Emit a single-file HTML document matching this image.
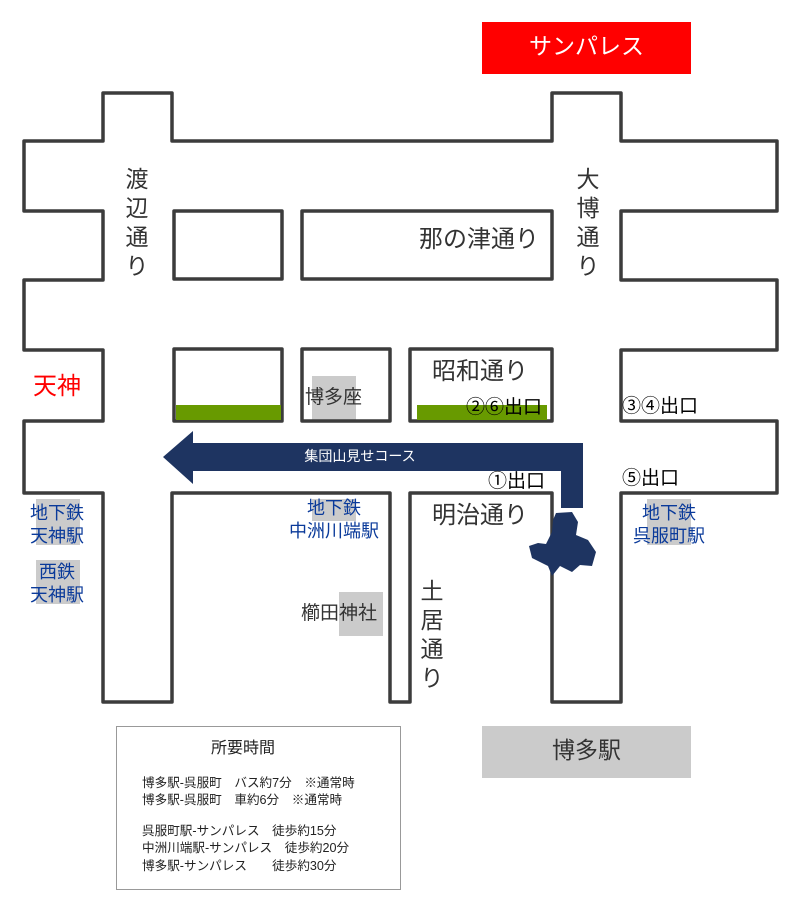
<!DOCTYPE html>
<html><head><meta charset="utf-8"><style>
body{margin:0;width:800px;height:900px;background:#fff;position:relative;overflow:hidden;font-family:"Liberation Sans","Noto Sans CJK JP",sans-serif;}
.t{position:absolute;white-space:nowrap;line-height:1;}
.g{position:absolute;background:#cbcbcb;}
.v{position:absolute;font-size:23px;color:#333;line-height:29px;text-align:center;width:30px;}
.b{color:#0a3a9a;font-size:18px;text-align:center;line-height:23px;}
.ex{font-size:19px;color:#000;}
.inf{font-size:12.6px;color:#222;}
</style></head><body>
<div class="g" style="left:312px;top:376px;width:44px;height:44px"></div>
<div class="g" style="left:36px;top:499px;width:44px;height:46px"></div>
<div class="g" style="left:36px;top:560px;width:44px;height:44px"></div>
<div class="g" style="left:312px;top:499px;width:44px;height:22px"></div>
<div class="g" style="left:339px;top:592px;width:44px;height:44px"></div>
<div class="g" style="left:647px;top:499px;width:44px;height:46px"></div>
<svg width="800" height="900" style="position:absolute;left:0;top:0">
<g fill="none" stroke="#3c3c3c" stroke-width="3.5" stroke-linejoin="round">
<path d="M103,93H172V141H552V93H621V141H777V211H621V280H777V350H621V421H777V493H621V702H552V493H410V702H390V493H172V702H103V493H24V421H103V350H24V280H103V211H24V141H103Z"/>
<rect x="174" y="211" width="108" height="68"/>
<rect x="302" y="211" width="250" height="68"/>
<rect x="174" y="349" width="108" height="72"/>
<rect x="302" y="349" width="88" height="72"/>
<rect x="410" y="349" width="142" height="72"/>
</g>
<rect x="176" y="405" width="105" height="15" fill="#689a00"/>
<rect x="417" y="405" width="130" height="15" fill="#689a00"/>
<g fill="#1e3461">
<polygon points="163,457 193,431 193,443 583,443 583,508 561,508 561,471 193,471 193,484"/>
<path d="M556,513 L572,512 L578,522 L576,535 L588,540 L596,552 L592,566 L580,565 L572,572 L560,566 L552,576 L548,566 L540,562 L532,558 L529,546 L538,543 L546,544 L552,532 L553,520Z"/>
</g>
<rect x="482" y="22" width="209" height="52" fill="#f00"/>
<rect x="482" y="726" width="209" height="52" fill="#cbcbcb"/>
<rect x="116.5" y="726.5" width="284" height="163" fill="none" stroke="#999" stroke-width="1"/>
</svg>
<div class="t" style="left:482px;top:35px;width:209px;text-align:center;color:#fff;font-size:23px">サンパレス</div>
<div class="t" style="left:482px;top:739px;width:209px;text-align:center;color:#333;font-size:23px">博多駅</div>
<div class="v" style="left:122px;top:165px">渡<br>辺<br>通<br>り</div>
<div class="v" style="left:573px;top:165px">大<br>博<br>通<br>り</div>
<div class="v" style="left:417px;top:577px">土<br>居<br>通<br>り</div>
<div class="t" style="left:419px;top:228px;font-size:24px;color:#333">那の津通り</div>
<div class="t" style="left:432px;top:360px;font-size:24px;color:#333">昭和通り</div>
<div class="t" style="left:432px;top:504px;font-size:24px;color:#333">明治通り</div>
<div class="t" style="left:33px;top:375px;font-size:24px;color:#f00">天神</div>
<div class="t" style="left:305px;top:388px;font-size:19px;color:#333">博多座</div>
<div class="t" style="left:301px;top:604px;font-size:19px;color:#333">櫛田神社</div>
<div class="t b" style="left:17px;top:502px;width:80px">地下鉄<br>天神駅</div>
<div class="t b" style="left:17px;top:561px;width:80px">西鉄<br>天神駅</div>
<div class="t b" style="left:274px;top:497px;width:120px">地下鉄<br>中洲川端駅</div>
<div class="t b" style="left:609px;top:502px;width:120px">地下鉄<br>呉服町駅</div>
<div class="t ex" style="left:466px;top:398px">②⑥出口</div>
<div class="t ex" style="left:622px;top:397px">③④出口</div>
<div class="t ex" style="left:488px;top:472px">①出口</div>
<div class="t ex" style="left:622px;top:469px">⑤出口</div>
<div class="t" style="left:290px;top:449px;width:140px;text-align:center;font-size:14px;color:#fff">集団山見せコース</div>
<div class="t" style="left:211px;top:741px;font-size:16px;color:#222">所要時間</div>
<div class="t inf" style="left:142px;top:777px">博多駅-呉服町　バス約7分　※通常時</div>
<div class="t inf" style="left:142px;top:794px">博多駅-呉服町　車約6分　※通常時</div>
<div class="t inf" style="left:142px;top:825px">呉服町駅-サンパレス　徒歩約15分</div>
<div class="t inf" style="left:142px;top:842px">中洲川端駅-サンパレス　徒歩約20分</div>
<div class="t inf" style="left:142px;top:860px">博多駅-サンパレス　　徒歩約30分</div>
</body></html>
